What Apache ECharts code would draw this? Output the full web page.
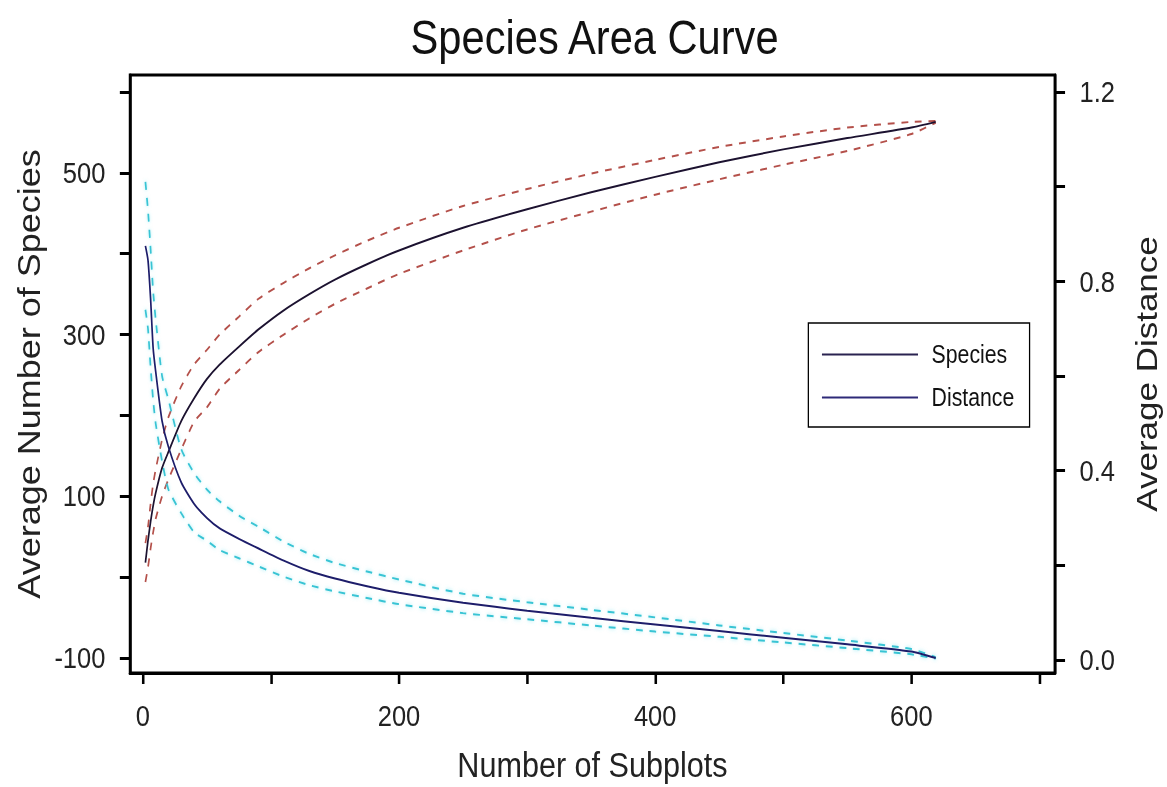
<!DOCTYPE html>
<html>
<head>
<meta charset="utf-8">
<title>Species Area Curve</title>
<script src="https://cdn.jsdelivr.net/npm/echarts@6/dist/echarts.min.js"></script>
<style>
  html, body { margin: 0; padding: 0; background: #fff; }
  #wrap { width: 1167px; height: 787px; overflow: hidden; }
  /* the chart is laid out wider and condensed horizontally, giving the narrow lettering */
  #chart { width: 1373px; height: 787px; transform: scaleX(0.85); transform-origin: 0 0; }
</style>
</head>
<body>
<div id="wrap"><div id="chart"></div></div>
<script>
// Number of subplots sampled along the curve
const subplots = [2, 4, 6, 8, 10, 15, 20, 30, 40, 50, 60, 75, 90, 110, 130, 150, 175, 200, 250, 300, 350, 400, 450, 500, 550, 600, 619];

// Average number of species (left axis) with its confidence band
const speciesMean  = [18, 45, 68, 88, 104, 135, 155, 193, 221, 245, 263, 285, 306, 330, 350, 368, 387, 404, 432, 455, 476, 495, 513, 529, 543, 556, 563];
const speciesUpper = [42, 62, 90, 115, 133, 170, 198, 236, 263, 281, 300, 322, 344, 364, 382, 398, 416, 432, 459, 480, 499, 516, 532, 545, 556, 563, 564];
const speciesLower = [-6, 12, 35, 55, 72, 100, 121, 158, 192, 210, 233, 256, 278, 300, 320, 338, 357, 375, 404, 430, 452, 473, 492, 510, 527, 548, 562];

// Average distance (right axis) with its confidence band
const distanceMean  = [0.875, 0.845, 0.765, 0.66, 0.61, 0.505, 0.45, 0.375, 0.33, 0.30, 0.278, 0.256, 0.236, 0.21, 0.188, 0.172, 0.156, 0.142, 0.121, 0.104, 0.089, 0.075, 0.061, 0.047, 0.033, 0.018, 0.004];
const distanceUpper = [1.01, 0.95, 0.87, 0.78, 0.72, 0.60, 0.55, 0.445, 0.395, 0.36, 0.335, 0.305, 0.282, 0.25, 0.224, 0.205, 0.187, 0.170, 0.140, 0.122, 0.106, 0.090, 0.073, 0.057, 0.041, 0.023, 0.006];
const distanceLower = [0.74, 0.70, 0.62, 0.55, 0.50, 0.42, 0.36, 0.31, 0.27, 0.252, 0.232, 0.215, 0.198, 0.176, 0.158, 0.145, 0.131, 0.118, 0.099, 0.086, 0.073, 0.060, 0.049, 0.037, 0.025, 0.012, 0.003];

// Tick marks and labelled ticks
const xTicks = [0, 100, 200, 300, 400, 500, 600, 700];
const xLabels = [0, 200, 400, 600];
const leftTicks = [-100, 0, 100, 200, 300, 400, 500, 600];
const leftLabels = [-100, 100, 300, 500];
const rightTicks = [0, 0.2, 0.4, 0.6, 0.8, 1.0, 1.2];
const rightLabels = [0, 0.4, 0.8, 1.2];

const pairs = (ys) => subplots.map((x, i) => [x, ys[i]]);

const FONT = "'Liberation Sans', Arial, Helvetica, sans-serif";
const TEXT = '#222';

const axisLine = { show: true, onZero: false, lineStyle: { color: '#000', width: 3 } };
const tickStyle = { lineStyle: { color: '#000', width: 3 } };

const chart = echarts.init(document.getElementById('chart'), null, { renderer: 'svg' });

const bandLine = (color, glow) => ({
  color: color, width: 2, type: [8, 8],
  shadowBlur: glow ? 4 : 0, shadowColor: glow ? 'rgba(90,220,235,0.6)' : 'transparent'
});

chart.setOption({
  backgroundColor: '#fff',
  animation: false,
  title: {
    text: 'Species Area Curve',
    left: 478,
    top: 8,
    textStyle: { fontFamily: FONT, fontSize: 49, fontWeight: 'normal', color: '#111' }
  },
  legend: {
    data: [
      { name: 'Species', itemStyle: { color: '#2a2350' } },
      { name: 'Distance', itemStyle: { color: '#2e2a78' } }
    ],
    orient: 'vertical',
    left: 951,
    top: 323,
    icon: 'rect',
    itemWidth: 113,
    itemHeight: 2,
    itemGap: 18,
    padding: [19, 18, 17, 16],
    borderColor: '#000',
    borderWidth: 1.5,
    backgroundColor: '#fff',
    textStyle: { fontFamily: FONT, fontSize: 25, color: '#111', lineHeight: 25, padding: [0, 0, 0, 11] }
  },
  grid: {
    left: 153, right: 132, top: 75, bottom: 114,
    outerBoundsMode: 'none',
    show: true, borderColor: '#000', borderWidth: 3, backgroundColor: 'transparent'
  },
  xAxis: {
    type: 'value',
    min: -10, max: 712,
    name: 'Number of Subplots',
    nameLocation: 'middle',
    nameGap: 74,
    nameTextStyle: { fontFamily: FONT, fontSize: 36, lineHeight: 36, color: TEXT },
    axisLine: axisLine,
    axisTick: { show: true, length: 11, customValues: xTicks, ...tickStyle },
    axisLabel: { customValues: xLabels, margin: 28, fontFamily: FONT, fontSize: 30, color: TEXT },
    splitLine: { show: false }
  },
  yAxis: [
    {
      type: 'value',
      position: 'left',
      min: -118.6, max: 621,
      name: 'Average Number of Species',
      nameLocation: 'middle',
      nameRotate: 90,
      nameGap: 99,
      nameTextStyle: { fontFamily: FONT, fontSize: 36, color: TEXT },
      axisLine: axisLine,
      axisTick: { show: true, length: 12, customValues: leftTicks, ...tickStyle },
      axisLabel: { customValues: leftLabels, margin: 29, fontFamily: FONT, fontSize: 30, color: TEXT },
      splitLine: { show: false }
    },
    {
      type: 'value',
      position: 'right',
      min: -0.0275, max: 1.236,
      name: 'Average Distance',
      nameLocation: 'middle',
      nameRotate: 90,
      nameGap: 91,
      nameTextStyle: { fontFamily: FONT, fontSize: 35, color: TEXT },
      axisLine: axisLine,
      axisTick: { show: true, length: 12, customValues: rightTicks, ...tickStyle },
      axisLabel: {
        customValues: rightLabels, margin: 29, fontFamily: FONT, fontSize: 30, color: TEXT,
        formatter: (v) => v.toFixed(1)
      },
      splitLine: { show: false }
    }
  ],
  series: [
    {
      name: 'Species upper', type: 'line', yAxisIndex: 0, data: pairs(speciesUpper),
      showSymbol: false, smooth: 0.2, lineStyle: bandLine('#b4504a', false)
    },
    {
      name: 'Species lower', type: 'line', yAxisIndex: 0, data: pairs(speciesLower),
      showSymbol: false, smooth: 0.2, lineStyle: bandLine('#b4504a', false)
    },
    {
      name: 'Distance upper', type: 'line', yAxisIndex: 1, data: pairs(distanceUpper),
      showSymbol: false, smooth: 0.2, lineStyle: bandLine('#38c4d4', true)
    },
    {
      name: 'Distance lower', type: 'line', yAxisIndex: 1, data: pairs(distanceLower),
      showSymbol: false, smooth: 0.2, lineStyle: bandLine('#38c4d4', true)
    },
    {
      name: 'Species', type: 'line', yAxisIndex: 0, data: pairs(speciesMean),
      showSymbol: false, smooth: 0.2,
      itemStyle: { color: '#2a2350' },
      lineStyle: { color: '#1c1230', width: 2 }
    },
    {
      name: 'Distance', type: 'line', yAxisIndex: 1, data: pairs(distanceMean),
      showSymbol: false, smooth: 0.2,
      itemStyle: { color: '#2e2a78' },
      lineStyle: { color: '#1d1d6a', width: 2 }
    }
  ]
});
</script>
</body>
</html>
